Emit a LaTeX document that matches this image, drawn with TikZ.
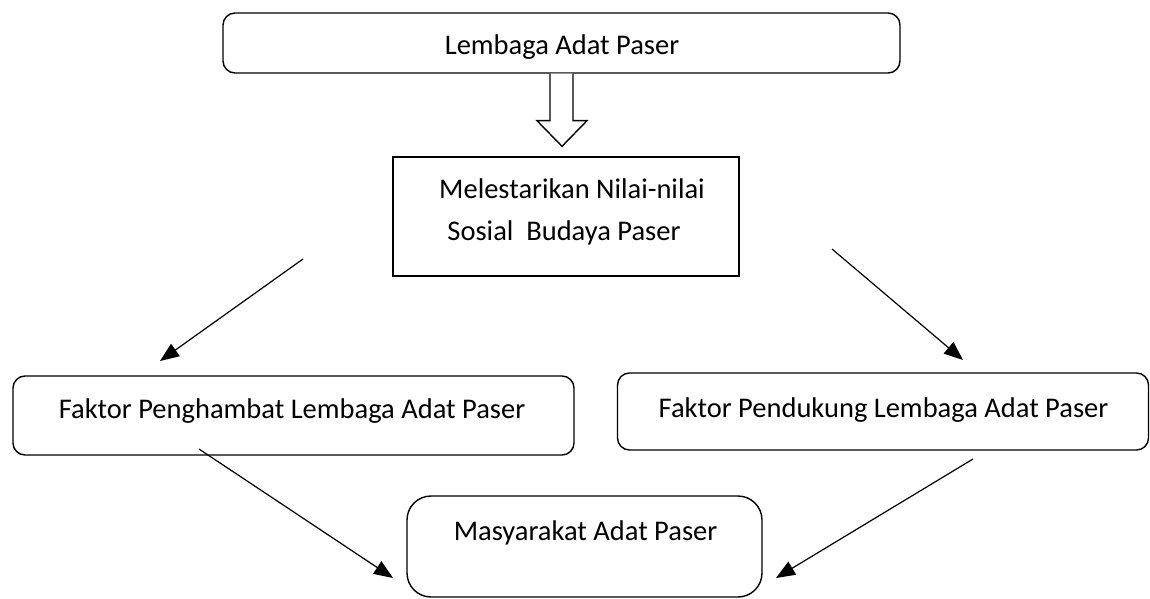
\documentclass[tikz,border=0pt]{standalone}
\usepackage{fontspec}
\setmainfont{Carlito}
\usetikzlibrary{arrows.meta,calc}
\begin{document}
\begin{tikzpicture}[x=1pt,y=-1pt,
  box/.style={draw,line width=1.4pt,inner sep=0pt},
  rbox/.style={box,rounded corners=12pt},
  txt/.style={anchor=base,inner sep=0pt,font=\fontsize{28.5}{41}\selectfont},
  conn/.style={line width=1.2pt,-{Triangle[length=19pt,width=15pt]}}]
\useasboundingbox (0,0) rectangle (1150,599);
% boxes
\node[rbox,minimum width=677pt,minimum height=60pt] (top) at (561.5,43) {};
\node[box,minimum width=346pt,minimum height=119pt] (mid) at (566,216.5) {};
\node[rbox,minimum width=561pt,minimum height=79pt] (left) at (293.5,415.5) {};
\node[rbox,minimum width=531pt,minimum height=77pt] (right) at (883,411.5) {};
\node[box,rounded corners=24pt,minimum width=355pt,minimum height=101pt] (bottom) at (584.5,546.5) {};
% texts
\node[txt] (toptext) at (562,55) {Lembaga Adat Paser};
\node[txt] (midtexta) at (572,198) {Melestarikan Nilai-nilai};
\node[txt] (midtextb) at (564,240) {Sosial\ \ Budaya Paser};
\node[txt] (lefttext) at (292,418) {Faktor Penghambat Lembaga Adat Paser};
\node[txt] (righttext) at (883.5,417) {Faktor Pendukung Lembaga Adat Paser};
\node[txt] (bottomtext) at (585.5,540) {Masyarakat Adat Paser};
% block arrow
\draw[line width=1.4pt,fill=white,line join=miter]
  ($(top.south)+(-11.5,0)$) -- ($(top.south)+(-11.5,47)$) -- ($(top.south)+(-24.5,47)$)
  -- ($(mid.north)+(-4,-10)$)
  -- ($(top.south)+(25.5,47)$) -- ($(top.south)+(11.5,47)$) -- ($(top.south)+(11.5,0)$);
% connectors
\coordinate (a1s) at (303,259);
\coordinate (a1e) at (160,361);
\coordinate (a2s) at (832,249);
\coordinate (a2e) at (963,360);
\coordinate (a3s) at (199,449);
\coordinate (a3e) at (393,578);
\coordinate (a4s) at (973,459);
\coordinate (a4e) at (776,578);
\draw[conn] (a1s) -- (a1e);
\draw[conn] (a2s) -- (a2e);
\draw[conn] (a3s) -- (a3e);
\draw[conn] (a4s) -- (a4e);
\end{tikzpicture}
\end{document}
